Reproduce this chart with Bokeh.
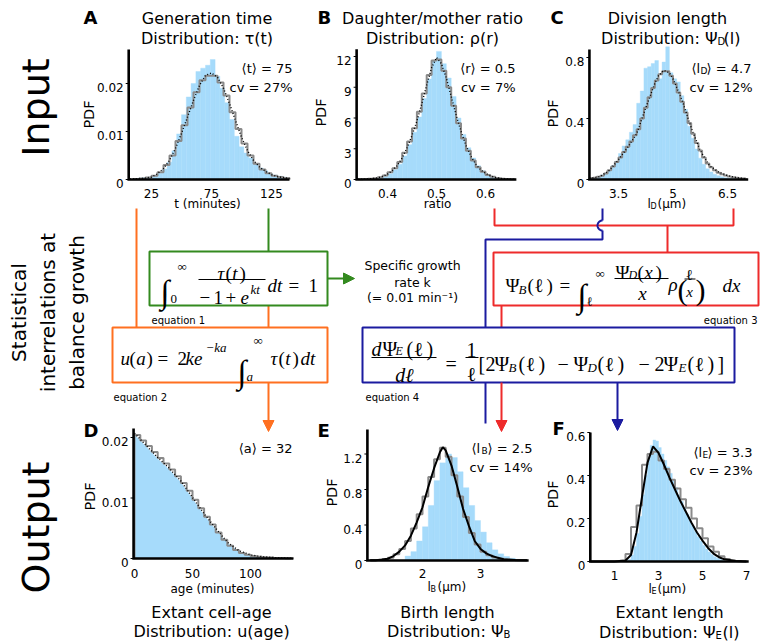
import numpy as np
from bokeh.plotting import figure
from bokeh.models import Range1d, Arrow, NormalHead
from bokeh.core.properties import value
from bokeh.embed import file_html
from bokeh.resources import INLINE

# ---------------- data ----------------
# A: generation time (minutes)
A_bar_x = [16, 20, 24, 28, 32, 36, 40, 44, 48, 52, 56, 60, 64, 68, 72, 76, 80, 84, 88, 92, 96, 100, 104, 108, 112, 116, 120, 124, 128, 132, 136]
A_bar_y = [0.0003, 0.0004, 0.0005, 0.0008, 0.0013, 0.0022, 0.0036, 0.0060, 0.0095, 0.0135, 0.0172, 0.0200, 0.0225, 0.0232, 0.0238, 0.0250, 0.0215, 0.0190, 0.0160, 0.0125, 0.0090, 0.0068, 0.0055, 0.0045, 0.0032, 0.0024, 0.0018, 0.0012, 0.0009, 0.0007, 0.0005]
A_step_x = [12.5, 17.5, 22.5, 27.5, 32.5, 37.5, 42.5, 47.5, 52.5, 57.5, 62.5, 67.5, 72.5, 77.5, 82.5, 87.5, 92.5, 97.5, 102.5, 107.5, 112.5, 117.5, 122.5, 127.5, 132.5, 137.5]
A_step_y = [0.0001, 0.0002, 0.0004, 0.0008, 0.0015, 0.0030, 0.0050, 0.0080, 0.0113, 0.0150, 0.0182, 0.0207, 0.0216, 0.0216, 0.0202, 0.0175, 0.0140, 0.0105, 0.0075, 0.0050, 0.0033, 0.0021, 0.0013, 0.0008, 0.0005, 0.0003]
A_curve_x = [7, 15, 20, 25, 30, 35, 40, 45, 50, 55, 60, 65, 70, 75, 80, 85, 90, 95, 100, 105, 110, 115, 120, 125, 130, 135, 140]
A_curve_y = [0.0001, 0.0002, 0.0003, 0.0005, 0.0012, 0.0023, 0.0040, 0.0065, 0.0096, 0.0130, 0.0165, 0.0196, 0.0217, 0.0222, 0.0213, 0.0190, 0.0158, 0.0123, 0.0088, 0.0060, 0.0040, 0.0026, 0.0017, 0.0010, 0.0006, 0.0004, 0.0002]
A_xticks = [25, 75, 125]
A_xticklabels = ["25", "75", "125"]
A_yticks = [0, 0.01, 0.02]
A_yticklabels = ["0", "0.01", "0.02"]

# B: daughter/mother ratio
B_bar_x = [0.345, 0.355, 0.365, 0.375, 0.385, 0.395, 0.405, 0.415, 0.425, 0.435, 0.445, 0.455, 0.465, 0.475, 0.485, 0.495, 0.505, 0.515, 0.525, 0.535, 0.545, 0.555, 0.565, 0.575, 0.585, 0.595, 0.605, 0.615, 0.625, 0.635, 0.645, 0.655]
B_bar_y = [0.02, 0.03, 0.05, 0.08, 0.15, 0.30, 0.55, 0.95, 1.5, 2.3, 3.4, 4.6, 6.1, 7.9, 9.8, 11.6, 12.5, 11.3, 9.9, 8.1, 6.0, 4.4, 3.1, 2.1, 1.35, 0.85, 0.5, 0.28, 0.15, 0.08, 0.04, 0.02]
B_step_y = [0.02, 0.04, 0.07, 0.12, 0.22, 0.40, 0.70, 1.1, 1.7, 2.6, 3.7, 5.0, 6.6, 8.4, 10.2, 11.6, 11.7, 10.6, 9.0, 7.2, 5.5, 4.0, 2.8, 1.85, 1.2, 0.75, 0.45, 0.26, 0.15, 0.08, 0.04, 0.02]
B_curve_x = [0.34, 0.35, 0.36, 0.37, 0.38, 0.39, 0.40, 0.41, 0.42, 0.43, 0.44, 0.45, 0.46, 0.47, 0.48, 0.49, 0.50, 0.51, 0.52, 0.53, 0.54, 0.55, 0.56, 0.57, 0.58, 0.59, 0.60, 0.61, 0.62, 0.63, 0.64, 0.65, 0.66]
B_curve_y = [0.01, 0.03, 0.05, 0.09, 0.16, 0.30, 0.52, 0.88, 1.38, 2.1, 3.1, 4.3, 5.7, 7.4, 9.2, 10.9, 11.9, 11.3, 9.9, 8.1, 6.3, 4.7, 3.35, 2.3, 1.5, 0.95, 0.6, 0.36, 0.2, 0.11, 0.06, 0.03, 0.01]
B_xticks = [0.4, 0.5, 0.6]
B_xticklabels = ["0.4", "0.5", "0.6"]
B_yticks = [0, 3, 6, 9, 12]
B_yticklabels = ["0", "3", "6", "9", "12"]

# C: division length (um)
C_bar_x = [2.85, 2.95, 3.05, 3.15, 3.25, 3.35, 3.45, 3.55, 3.65, 3.75, 3.85, 3.95, 4.05, 4.15, 4.25, 4.35, 4.45, 4.55, 4.65, 4.75, 4.85, 4.95, 5.05, 5.15, 5.25, 5.35, 5.45, 5.55, 5.65, 5.75, 5.85, 5.95, 6.05, 6.15, 6.25, 6.35, 6.45, 6.55, 6.65]
C_bar_y = [0.01, 0.02, 0.03, 0.04, 0.06, 0.09, 0.12, 0.17, 0.22, 0.26, 0.31, 0.36, 0.50, 0.58, 0.73, 0.74, 0.76, 0.78, 0.66, 0.77, 0.87, 0.70, 0.66, 0.64, 0.55, 0.46, 0.35, 0.27, 0.20, 0.14, 0.10, 0.07, 0.05, 0.035, 0.025, 0.018, 0.012, 0.008, 0.005]
C_step_x = [2.75, 2.85, 2.95, 3.05, 3.15, 3.25, 3.35, 3.45, 3.55, 3.65, 3.75, 3.85, 3.95, 4.05, 4.15, 4.25, 4.35, 4.45, 4.55, 4.65, 4.75, 4.85, 4.95, 5.05, 5.15, 5.25, 5.35, 5.45, 5.55, 5.65, 5.75, 5.85, 5.95, 6.05, 6.15, 6.25, 6.35, 6.45, 6.55, 6.65, 6.75, 6.85, 6.95]
C_step_y = [0.01, 0.012, 0.018, 0.025, 0.04, 0.06, 0.085, 0.115, 0.145, 0.18, 0.215, 0.25, 0.29, 0.33, 0.40, 0.47, 0.54, 0.60, 0.65, 0.69, 0.71, 0.71, 0.68, 0.63, 0.57, 0.51, 0.44, 0.37, 0.30, 0.24, 0.19, 0.145, 0.105, 0.08, 0.06, 0.045, 0.034, 0.026, 0.02, 0.015, 0.011, 0.008, 0.006]
C_curve_x = [2.7, 2.9, 3.0, 3.25, 3.5, 3.75, 4.0, 4.25, 4.5, 4.6, 4.75, 4.9, 5.0, 5.25, 5.5, 5.75, 6.0, 6.25, 6.5, 6.75, 7.0]
C_curve_y = [0.008, 0.015, 0.02, 0.06, 0.13, 0.21, 0.30, 0.47, 0.63, 0.68, 0.715, 0.70, 0.66, 0.52, 0.34, 0.19, 0.092, 0.05, 0.026, 0.012, 0.005]
C_xticks = [3.5, 5, 6.5]
C_xticklabels = ["3.5", "5", "6.5"]
C_yticks = [0, 0.4, 0.8]
C_yticklabels = ["0", "0.4", "0.8"]

# D: extant cell age (minutes)
D_fill_x = [0, 10, 20, 30, 40, 50, 60, 70, 80, 90, 100, 110, 120, 130, 136]
D_fill_y = [0.0205, 0.0185, 0.0165, 0.0147, 0.0126, 0.0099, 0.0072, 0.0048, 0.0026, 0.0012, 0.0005, 0.0002, 0.0001, 0.00005, 0.00003]
D_step_x = [2.5, 7.5, 12.5, 17.5, 22.5, 27.5, 32.5, 37.5, 42.5, 47.5, 52.5, 57.5, 62.5, 67.5, 72.5, 77.5, 82.5, 87.5, 92.5, 97.5, 102.5, 107.5, 112.5, 117.5, 122.5, 127.5, 132.5]
D_step_y = [0.0204, 0.0195, 0.0186, 0.0176, 0.0166, 0.0157, 0.0147, 0.0136, 0.0125, 0.0112, 0.0097, 0.0083, 0.0069, 0.0056, 0.0043, 0.0031, 0.0021, 0.0014, 0.0009, 0.0006, 0.0004, 0.0003, 0.0002, 0.00015, 0.0001, 0.0001, 0.00005]
D_curve_x = [0, 10, 20, 30, 40, 50, 60, 70, 80, 90, 100, 110, 120, 130, 137]
D_curve_y = [0.0207, 0.0187, 0.0167, 0.0149, 0.0128, 0.0101, 0.0074, 0.0050, 0.0027, 0.0013, 0.0006, 0.0003, 0.00015, 0.00008, 0.00005]
D_xticks = [0, 50, 100]
D_xticklabels = ["0", "50", "100"]
D_yticks = [0, 0.01, 0.02]
D_yticklabels = ["0", "0.01", "0.02"]

# E: birth length (um)
E_bar_x = [1.75, 1.85, 1.95, 2.05, 2.15, 2.25, 2.35, 2.45, 2.55, 2.65, 2.75, 2.85, 2.95, 3.05, 3.15, 3.25, 3.35, 3.45, 3.55, 3.65, 3.75]
E_bar_y = [0.05, 0.10, 0.22, 0.38, 0.62, 0.90, 1.10, 1.20, 1.16, 1.00, 0.82, 0.62, 0.45, 0.32, 0.20, 0.12, 0.075, 0.045, 0.025, 0.012, 0.006]
E_step_x = [1.15, 1.25, 1.35, 1.45, 1.55, 1.65, 1.75, 1.85, 1.95, 2.05, 2.15, 2.25, 2.35, 2.45, 2.55, 2.65, 2.75, 2.85, 2.95, 3.05, 3.15, 3.25, 3.35, 3.45, 3.55, 3.65, 3.75]
E_step_y = [0.002, 0.005, 0.012, 0.03, 0.07, 0.13, 0.22, 0.36, 0.52, 0.72, 0.94, 1.14, 1.27, 1.17, 0.96, 0.72, 0.49, 0.31, 0.18, 0.10, 0.06, 0.035, 0.02, 0.012, 0.007, 0.004, 0.002]
E_curve_x = [1.1, 1.2, 1.3, 1.4, 1.5, 1.6, 1.7, 1.8, 1.9, 2.0, 2.1, 2.2, 2.3, 2.35, 2.4, 2.5, 2.6, 2.7, 2.8, 2.9, 3.0, 3.1, 3.2, 3.3, 3.4, 3.6, 3.8]
E_curve_y = [0.002, 0.004, 0.01, 0.02, 0.05, 0.10, 0.17, 0.28, 0.43, 0.60, 0.83, 1.04, 1.22, 1.277, 1.24, 1.07, 0.83, 0.58, 0.39, 0.22, 0.13, 0.08, 0.05, 0.03, 0.015, 0.005, 0.002]
E_xticks = [2, 3]
E_xticklabels = ["2", "3"]
E_yticks = [0, 0.4, 0.8, 1.2]
E_yticklabels = ["0", "0.4", "0.8", "1.2"]

# F: extant length (um)
F_bar_x = [1.5625, 1.6875, 1.8125, 1.9375, 2.0625, 2.1875, 2.3125, 2.4375, 2.5625, 2.6875, 2.8125, 2.9375, 3.0625, 3.1875, 3.3125, 3.4375, 3.5625, 3.6875, 3.8125, 3.9375, 4.0625, 4.1875, 4.3125, 4.4375, 4.5625, 4.6875, 4.8125, 4.9375, 5.0625, 5.1875, 5.3125, 5.4375, 5.5625, 5.6875, 5.8125, 5.9375]
F_bar_y = [0.005, 0.01, 0.03, 0.07, 0.13, 0.21, 0.31, 0.40, 0.48, 0.54, 0.565, 0.56, 0.53, 0.50, 0.47, 0.44, 0.41, 0.38, 0.345, 0.31, 0.28, 0.25, 0.22, 0.19, 0.165, 0.14, 0.115, 0.095, 0.075, 0.058, 0.044, 0.032, 0.022, 0.015, 0.01, 0.006]
F_step_x = [1.375, 1.625, 1.875, 2.125, 2.375, 2.625, 2.875, 3.125, 3.375, 3.625, 3.875, 4.125, 4.375, 4.625, 4.875, 5.125, 5.375, 5.625, 5.875, 6.125, 6.375, 6.625]
F_step_y = [0.003, 0.035, 0.16, 0.26, 0.45, 0.50, 0.51, 0.47, 0.43, 0.38, 0.34, 0.29, 0.25, 0.20, 0.155, 0.108, 0.07, 0.045, 0.025, 0.012, 0.005, 0.002]
F_curve_x = [-0.1, 1.0, 1.5, 1.75, 2.0, 2.25, 2.5, 2.75, 3.0, 3.25, 3.5, 3.75, 4.0, 4.25, 4.5, 4.75, 5.0, 5.25, 5.5, 5.75, 6.0, 6.5, 7.0]
F_curve_y = [0.0, 0.0005, 0.005, 0.03, 0.135, 0.30, 0.46, 0.535, 0.505, 0.45, 0.39, 0.335, 0.28, 0.23, 0.18, 0.135, 0.097, 0.063, 0.037, 0.02, 0.01, 0.002, 0.0]
F_xticks = [1, 3, 5, 7]
F_xticklabels = ["1", "3", "5", "7"]
F_yticks = [0, 0.2, 0.4, 0.6]
F_yticklabels = ["0", "0.2", "0.4", "0.6"]

# ---------------- styles ----------------
BLUE_BAR = "#a6dbfb"
GRAY = "#8a8a8a"
ORANGE = "#ff7020"
GREEN = "#338a1f"
RED = "#ee2b2b"
NAVY = "#1b1ba0"
SANS = "DejaVu Sans"
SERIF = "Liberation Serif"

X0, X1, Y0, Y1 = 0, 760, 0, 642
p = figure(width=X1 - X0, height=Y1 - Y0, x_range=Range1d(X0, X1), y_range=Range1d(Y1, Y0),
           output_backend="svg", toolbar_location=None, min_border=0,
           x_axis_location=None, y_axis_location=None)
p.outline_line_color = None
p.background_fill_color = "white"
p.border_fill_color = "white"
p.xgrid.visible = False
p.ygrid.visible = False

xr, yr = {}, {}


def txt(x, y, s, size, font=SANS, align="left", baseline="alphabetic", style="normal",
        color="black", angle=0.0, rn=None):
    kw = dict(x_range_name=rn, y_range_name=rn) if rn else {}
    p.text(x=[x], y=[y], text=[s], text_font=value(font), text_font_size=f"{size}px",
           text_align=align, text_baseline=baseline, text_font_style=style,
           text_color=color, angle=angle, **kw)


def m(x, y, s, size=19, style="italic", align="left"):
    txt(x, y, s, size, font=SERIF, align=align, style=style)


def pl(x, y, size=19, inner="ℓ", style="normal", close=1.0):
    # "(…)" spread out like TeX spacing
    m(x, y, "(", size, "normal")
    m(x + 0.36 * size, y, inner, size, style)
    m(x + close * size, y, ")", size, "normal")


def make_ranges(name, xmap, ymap):
    xd1, xp1, xd2, xp2 = xmap
    sx = (xp2 - xp1) / (xd2 - xd1)
    yd1, yp1, yd2, yp2 = ymap
    sy = (yp1 - yp2) / (yd2 - yd1)
    xr[name] = Range1d(xd1 + (X0 - xp1) / sx, xd1 + (X1 - xp1) / sx)
    yr[name] = Range1d(yd1 - (Y1 - yp1) / sy, yd1 + (yp1 - Y0) / sy)
    return sx, sy


def step_path(cx, cy, w):
    xs, ys = [cx[0] - w / 2], [0]
    for c, v in zip(cx, cy):
        xs += [c - w / 2, c + w / 2]
        ys += [v, v]
    xs.append(cx[-1] + w / 2)
    ys.append(0)
    return xs, ys


def panel(name, xmap, ymap, xlim, ytop, xticks, xtl, yticks, ytl, bars, steps, curve,
          dotted, xlab_dy=13.5):
    sx, sy = make_ranges(name, xmap, ymap)
    rn = dict(x_range_name=name, y_range_name=name)
    kind, bx, by, bw = bars
    if kind == "bar":
        p.vbar(x=bx, width=bw, top=by, bottom=0, fill_color=BLUE_BAR, line_color=BLUE_BAR,
               line_width=0.4, **rn)
    else:
        p.varea(x=bx, y1=0, y2=by, fill_color=BLUE_BAR, **rn)
    sxs, sys_ = step_path(*steps)
    cxs, cys = curve
    p.line(sxs, sys_, line_color=GRAY, line_width=2, **rn)
    if dotted:
        p.line(cxs, cys, line_color="black", line_width=1.4, line_dash="1 2", **rn)
    else:
        p.line(cxs, cys, line_color="black", line_width=2, **rn)
    # spines
    p.line([xlim[0], xlim[0], xlim[1]], [ytop, 0, 0], line_color="black", line_width=2.6,
           line_join="miter", **rn)
    # ticks + tick labels
    p.segment(x0=[xlim[0] - 3 / sx] * len(yticks), x1=[xlim[0]] * len(yticks), y0=yticks,
              y1=yticks, line_color="black", line_width=1, **rn)
    p.text(x=xticks, y=[-xlab_dy / sy] * len(xticks), text=xtl, text_font=value(SANS),
           text_font_size="12px", text_align="center", text_baseline="alphabetic", **rn)
    p.text(x=[xlim[0] - 5 / sx] * len(yticks), y=[t - 4.3 / sy for t in yticks], text=ytl,
           text_font=value(SANS), text_font_size="12px", text_align="right",
           text_baseline="alphabetic", **rn)


# ---------------- connectors (drawn beneath boxes) ----------------
def seg(xs, ys, c, w=2):
    p.line(xs, ys, line_color=c, line_width=w)


seg([136, 136], [208, 327], ORANGE)
seg([268, 268], [305, 327], ORANGE)
seg([268, 268], [208, 251], GREEN)
seg([494, 494, 733, 733], [208, 225, 225, 208], RED)
seg([667, 667], [225, 252], RED)
seg([501, 501], [305, 328], RED)
# blue with a small hop over the red line
seg([602, 602], [208, 220], NAVY)
th = np.linspace(0, np.pi, 20)
seg(list(602 - 5 * np.sin(th)), list(220 + 5 * (1 - np.cos(th))), NAVY)
seg([602, 602, 485, 485], [230, 239, 239, 328], NAVY)
seg([485, 485], [382, 423], NAVY)

for (xs, ys, xe, ye, c) in [(327, 278, 354, 278, GREEN), (268, 382, 268, 431, ORANGE),
                            (501, 382, 501, 431, RED), (617, 382, 617, 430, NAVY)]:
    p.add_layout(Arrow(x_start=xs, y_start=ys, x_end=xe, y_end=ye, line_color=c, line_width=2,
                       end=NormalHead(size=11, fill_color=c, line_color=c, line_width=1)))

# boxes
for (l, r, t, b, c) in [(149, 327, 251, 305, GREEN), (112, 327, 327, 382, ORANGE),
                        (493, 758, 252, 305, RED), (362, 734, 327, 382, NAVY)]:
    p.quad(left=[l], right=[r], top=[t], bottom=[b], fill_color="white", line_color=c,
           line_width=2)

# ---------------- equations ----------------
# eq 1
m(160, 291, "∫", 33, "normal")
m(177, 266, "∞", 13, "normal")
m(170, 298, "0", 13, "normal")
m(217, 272.5, "τ", 19, "italic")
pl(225, 272.5, 19, "t", "italic", close=0.74)
seg([198, 265], [279, 279], "black", 1)
m(199, 297, "−", 19, "normal")
m(213, 297, "1", 19, "normal")
m(225, 297, "+", 19, "normal")
m(240, 297, "e", 19, "italic")
m(250, 289, "kt", 13, "italic")
m(267, 285, "dt", 19, "italic")
m(288, 285, "=", 19, "normal")
m(308, 285, "1", 19, "normal")
# eq 2
m(120, 358, "u", 19, "italic")
pl(129, 358, 19, "a", "italic", close=0.9)
m(157, 358, "=", 19, "normal")
m(177, 358, "2", 19, "normal")
m(185, 358, "ke", 19, "italic")
m(205, 347, "−ka", 13, "italic")
m(237, 371, "∫", 33, "normal")
m(253, 340, "∞", 13, "normal")
m(246, 376, "a", 13, "italic")
m(270, 358, "τ", 19, "italic")
pl(278, 358, 19, "t", "italic", close=0.74)
m(300, 358, "dt", 19, "italic")
# eq 3
m(505, 285, "Ψ", 19, "normal")
m(518, 289, "B", 13, "italic")
pl(527, 285, 19)
m(559, 285, "=", 19, "normal")
m(577, 295, "∫", 33, "normal")
m(595, 273, "∞", 13, "normal")
m(586, 301, "ℓ", 13, "normal")
m(615, 271.5, "Ψ", 19, "normal")
m(628, 274, "D", 12, "italic")
pl(637, 271.5, 19, "x", "italic", close=0.95)
seg([614, 668], [278, 278], "black", 1)
m(642, 293, "x", 19, "italic", "center")
m(668, 284, "ρ", 19, "italic")
m(677, 289, "(", 30, "normal")
m(689, 274, "ℓ", 15, "normal", "center")
seg([684, 695], [278.5, 278.5], "black", 1)
m(689, 291, "x", 15, "italic", "center")
m(695, 289, ")", 30, "normal")
m(722, 285, "dx", 19, "italic")
# eq 4
m(371, 348, "d", 20, "italic")
m(382, 348, "Ψ", 20, "normal")
m(395, 350.5, "E", 12, "italic")
pl(406, 348, 20)
seg([371, 436], [357, 357], "black", 1)
m(404, 374, "dℓ", 20, "italic", "center")
m(445, 363, "=", 20, "normal")
m(471, 349, "1", 20, "normal", "center")
seg([465, 478], [357, 357], "black", 1)
m(471, 373, "ℓ", 20, "normal", "center")
m(478, 363, "[", 20, "normal")
m(485, 363, "2", 20, "normal")
m(494, 363, "Ψ", 20, "normal")
m(508, 367, "B", 13, "italic")
pl(518, 363, 20)
m(557, 363, "−", 20, "normal")
m(573, 363, "Ψ", 20, "normal")
m(587, 367, "D", 13, "italic")
pl(597, 363, 20)
m(638, 363, "−", 20, "normal")
m(654, 363, "2", 20, "normal")
m(663, 363, "Ψ", 20, "normal")
m(678, 367, "E", 13, "italic")
pl(687, 363, 20)
m(717, 363, "]", 20, "normal")

txt(151, 320, "equation 1", 10)
txt(113, 397, "equation 2", 10)
txt(757, 320, "equation 3", 10, align="right")
txt(365, 397, "equation 4", 10)

txt(412, 265, "Specific growth", 12.5, align="center")
txt(412, 282, "rate k", 12.5, align="center")
txt(412, 297, "(= 0.01 min⁻¹)", 12.5, align="center")

# ---------------- row labels ----------------
txt(35, 107, "Input", 38, align="center", angle=np.pi / 2)
txt(35, 527, "Output", 38, align="center", angle=np.pi / 2)
txt(18, 312, "Statistical", 20, align="center", angle=np.pi / 2)
txt(47, 312, "interrelations at", 20, align="center", angle=np.pi / 2)
txt(76, 312, "balance growth", 20, align="center", angle=np.pi / 2)

# ---------------- panels ----------------
panel("A", (25, 151, 75, 211), (0, 179, 0.02, 83), (6, 140), 0.0271, A_xticks, A_xticklabels,
      A_yticks, A_yticklabels, ("bar", A_bar_x, A_bar_y, 4), (A_step_x, A_step_y, 5),
      (A_curve_x, A_curve_y), True)
panel("B", (0.4, 387, 0.6, 485), (0, 179, 12, 56), (0.337, 0.663), 12.7, B_xticks,
      B_xticklabels, B_yticks, B_yticklabels, ("bar", B_bar_x, B_bar_y, 0.01),
      (B_bar_x, B_step_y, 0.01), (B_curve_x, B_curve_y), True)
panel("C", (3.5, 618, 6.5, 727), (0, 179, 0.8, 57), (2.7, 7.07), 0.852, C_xticks,
      C_xticklabels, C_yticks, C_yticklabels, ("bar", C_bar_x, C_bar_y, 0.1),
      (C_step_x, C_step_y, 0.1), (C_curve_x, C_curve_y), True)
panel("D", (0, 134, 100, 250), (0, 558, 0.02, 437), (-0.8, 137), 0.0215, D_xticks,
      D_xticklabels, D_yticks, D_yticklabels, ("area", D_fill_x, D_fill_y, None),
      (D_step_x, D_step_y, 5), (D_curve_x, D_curve_y), True, xlab_dy=15)
panel("E", (2, 422, 3, 480), (0, 560, 1.2, 453.5), (1.05, 3.83), 1.476, E_xticks,
      E_xticklabels, E_yticks, E_yticklabels, ("bar", E_bar_x, E_bar_y, 0.1),
      (E_step_x, E_step_y, 0.1), (E_curve_x, E_curve_y), False, xlab_dy=13)
panel("F", (1, 614, 7, 746), (0, 561, 0.6, 432), (-0.1, 7.1), 0.6, F_xticks, F_xticklabels,
      F_yticks, F_yticklabels, ("bar", F_bar_x, F_bar_y, 0.125), (F_step_x, F_step_y, 0.25),
      (F_curve_x, F_curve_y), False, xlab_dy=14)

# panel letters
for (x, y, s) in [(83, 17, "A"), (317, 17, "B"), (550, 17, "C"), (83, 430, "D"), (317, 430, "E"),
                  (552, 428, "F")]:
    txt(x, y, s, 18, style="bold")

# titles
txt(206.5, 18, "Generation time", 16, align="center")
txt(206.5, 37.5, "Distribution: τ(t)", 16, align="center")
txt(432, 18, "Daughter/mother ratio", 16, align="center")
txt(432, 37.5, "Distribution: ρ(r)", 16, align="center")
txt(667, 18, "Division length", 16, align="center")
txt(717, 37.5, "Distribution: Ψ", 16, align="right")
txt(717, 40.5, "D", 10)
txt(723, 37.5, "(l)", 16)
txt(211, 611.5, "Extant cell-age", 16, align="center")
txt(211, 631, "Distribution: u(age)", 16, align="center")
txt(447, 611.5, "Birth length", 16, align="center")
txt(503, 631, "Distribution: Ψ", 16, align="right")
txt(503, 634, "B", 10)
txt(669, 612, "Extant length", 16, align="center")
txt(715, 631.5, "Distribution: Ψ", 16, align="right")
txt(715, 634.5, "E", 10)
txt(722, 631.5, "(l)", 16)

# axis labels
for (x, y) in [(88, 114), (320, 112), (552, 113), (89, 496), (331, 492), (552, 494)]:
    txt(x, y, "PDF", 14.5, align="center", baseline="middle", angle=np.pi / 2)
txt(207, 203, "t (minutes)", 12, align="center")
txt(437, 203, "ratio", 12, align="center")
txt(647, 203, "l", 12)
txt(650, 205.5, "D", 8)
txt(657, 203, " (μm)", 12)
txt(212, 588, "age (minutes)", 12, align="center")
txt(427, 586, "l", 12)
txt(430, 588.5, "B", 8)
txt(437, 586, " (μm)", 12)
txt(648, 588, "l", 12)
txt(651, 590.5, "E", 8)
txt(657, 588, " (μm)", 12)

# annotations
txt(292, 68, "⟨t⟩ = 75", 13, align="right")
txt(292, 87, "cv = 27%", 13, align="right")
txt(515, 68, "⟨r⟩ = 0.5", 13, align="right")
txt(515, 87, "cv = 7%", 13, align="right")
txt(691, 68, "⟨l", 13)
txt(700, 70.5, "D", 9)
txt(706, 68, "⟩ = 4.7", 13)
txt(752, 87, "cv = 12%", 13, align="right")
txt(292, 448, "⟨a⟩ = 32", 13, align="right")
txt(471, 448, "⟨l", 13)
txt(481, 450.5, "B", 9)
txt(487, 448, "⟩ = 2.5", 13)
txt(532, 467, "cv = 14%", 13, align="right")
txt(693, 452, "⟨l", 13)
txt(702, 454.5, "E", 9)
txt(707, 452, "⟩ = 3.3", 13)
txt(752, 470, "cv = 23%", 13, align="right")

p.extra_x_ranges = xr
p.extra_y_ranges = yr

open("out.html", "w").write(file_html(p, INLINE))
